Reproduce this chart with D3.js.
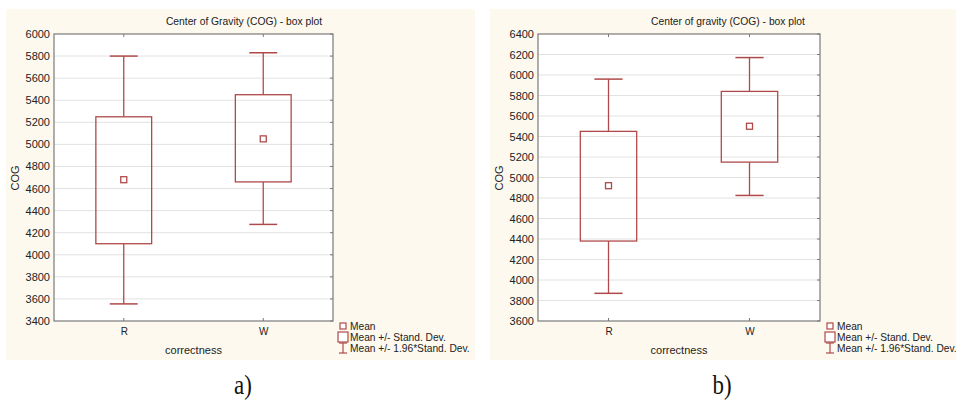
<!DOCTYPE html>
<html>
<head>
<meta charset="utf-8">
<script src="https://cdn.jsdelivr.net/npm/d3@7"></script>
<style>
  body { margin: 0; background: #fff; }
  svg { display: block; }
</style>
</head>
<body>
<svg id="chart" width="956" height="405"></svg>
<script>
// categories on the x axis
var categories = ["R", "W"];

// panel a)
var meanA = [4680, 5050];
var sdLowA = [4100, 4660];
var sdHighA = [5250, 5450];
var ciLowA = [3555, 4275];
var ciHighA = [5800, 5830];
var ticksA = [3400, 3600, 3800, 4000, 4200, 4400, 4600, 4800, 5000, 5200, 5400, 5600, 5800, 6000];

// panel b)
var meanB = [4920, 5500];
var sdLowB = [4380, 5150];
var sdHighB = [5450, 5840];
var ciLowB = [3870, 4825];
var ciHighB = [5960, 6170];
var ticksB = [3600, 3800, 4000, 4200, 4400, 4600, 4800, 5000, 5200, 5400, 5600, 5800, 6000, 6200, 6400];

var legendLabels = ["Mean", "Mean +/- Stand. Dev.", "Mean +/- 1.96*Stand. Dev."];

var boxColor = "#b04a4a";
var axisColor = "#7a7a7a";
var font = "'Liberation Sans', Arial, sans-serif";

const svg = d3.select('#chart');

function drawPanel(p) {
    // cream background
    svg.append('rect')
        .attr('x', p.bgX).attr('y', 9)
        .attr('width', p.bgW).attr('height', 351)
        .attr('fill', '#fdf9ef');

    let x = d3.scalePoint().domain(categories).range([p.left, p.right]).padding(0.5);
    let y = d3.scaleLinear().domain([p.ticks[0], p.ticks[p.ticks.length - 1]]).range([321, 34]);
    let boxW = (p.right - p.left) * 0.2;

    const g = svg.append('g');

    g.append('rect')
        .attr('x', p.left).attr('y', 34)
        .attr('width', p.right - p.left).attr('height', 321 - 34)
        .attr('fill', '#fff');

    // grid lines
    g.selectAll('.grid')
        .data(p.ticks.slice(1, -1))
        .enter().append('line')
        .attr('x1', p.left).attr('x2', p.right)
        .attr('y1', d => y(d)).attr('y2', d => y(d))
        .attr('stroke', '#e2e2e2').attr('stroke-width', 1);

    // left axis
    let axisL = d3.axisLeft(y).tickValues(p.ticks).tickFormat(d3.format('d')).tickSize(0).tickPadding(4);
    const gl = g.append('g').attr('transform', 'translate(' + p.left + ',0)').call(axisL);
    gl.select('.domain').remove();
    gl.selectAll('text').attr('font-family', font).attr('font-size', 11).attr('fill', '#222');

    // bottom axis
    let axisB = d3.axisBottom(x).tickSize(0).tickPadding(7);
    const gb = g.append('g').attr('transform', 'translate(0,321)').call(axisB);
    gb.select('.domain').remove();
    gb.selectAll('text').attr('font-family', font).attr('font-size', 10).attr('fill', '#222');

    // small ticks on top and right, and at categories on bottom
    g.selectAll('.rtick').data(p.ticks).enter().append('line')
        .attr('x1', p.right - 3).attr('x2', p.right)
        .attr('y1', d => y(d)).attr('y2', d => y(d))
        .attr('stroke', axisColor);
    g.selectAll('.ttick').data(categories).enter().append('line')
        .attr('x1', d => x(d)).attr('x2', d => x(d))
        .attr('y1', 34).attr('y2', 37)
        .attr('stroke', axisColor);
    g.selectAll('.btick').data(categories).enter().append('line')
        .attr('x1', d => x(d)).attr('x2', d => x(d))
        .attr('y1', 321).attr('y2', 318)
        .attr('stroke', axisColor);

    // frame
    g.append('rect')
        .attr('x', p.left).attr('y', 34)
        .attr('width', p.right - p.left).attr('height', 321 - 34)
        .attr('fill', 'none').attr('stroke', axisColor).attr('stroke-width', 1.2);

    // whiskers, boxes and means
    categories.forEach(function (c, i) {
        let cx = x(c);
        g.append('line')
            .attr('x1', cx).attr('x2', cx)
            .attr('y1', y(p.ciHigh[i])).attr('y2', y(p.sdHigh[i]))
            .attr('stroke', boxColor).attr('stroke-width', 1.3);
        g.append('line')
            .attr('x1', cx).attr('x2', cx)
            .attr('y1', y(p.sdLow[i])).attr('y2', y(p.ciLow[i]))
            .attr('stroke', boxColor).attr('stroke-width', 1.3);
        g.append('line')
            .attr('x1', cx - boxW / 4).attr('x2', cx + boxW / 4)
            .attr('y1', y(p.ciHigh[i])).attr('y2', y(p.ciHigh[i]))
            .attr('stroke', boxColor).attr('stroke-width', 1.5);
        g.append('line')
            .attr('x1', cx - boxW / 4).attr('x2', cx + boxW / 4)
            .attr('y1', y(p.ciLow[i])).attr('y2', y(p.ciLow[i]))
            .attr('stroke', boxColor).attr('stroke-width', 1.5);
        g.append('rect')
            .attr('x', cx - boxW / 2).attr('y', y(p.sdHigh[i]))
            .attr('width', boxW).attr('height', y(p.sdLow[i]) - y(p.sdHigh[i]))
            .attr('fill', 'none').attr('stroke', boxColor).attr('stroke-width', 1.3);
        g.append('rect')
            .attr('x', cx - 3).attr('y', y(p.mean[i]) - 3)
            .attr('width', 6).attr('height', 6)
            .attr('fill', '#fff').attr('stroke', boxColor).attr('stroke-width', 1.3);
    });

    // titles
    g.append('text')
        .attr('x', p.titleX).attr('y', 25)
        .attr('text-anchor', 'middle')
        .attr('font-family', font).attr('font-size', 10.3).attr('fill', '#222')
        .text(p.title);
    g.append('text')
        .attr('x', (p.left + p.right) / 2).attr('y', 354)
        .attr('text-anchor', 'middle')
        .attr('font-family', font).attr('font-size', 11).attr('fill', '#222')
        .text('correctness');
    g.append('text')
        .attr('transform', 'translate(' + (p.left - 35) + ',178) rotate(-90)')
        .attr('text-anchor', 'middle')
        .attr('font-family', font).attr('font-size', 11).attr('fill', '#222')
        .text('COG');

    // legend
    let lx = p.right + 6;
    let ly = [326, 337, 348];
    g.append('rect').attr('x', lx + 1).attr('y', ly[0] - 3).attr('width', 6).attr('height', 6)
        .attr('fill', '#fff').attr('stroke', boxColor).attr('stroke-width', 1.2);
    g.append('rect').attr('x', lx - 1).attr('y', ly[1] - 5).attr('width', 10).attr('height', 10)
        .attr('fill', '#fff').attr('stroke', boxColor).attr('stroke-width', 1.2);
    g.append('line').attr('x1', lx + 4).attr('x2', lx + 4).attr('y1', ly[2] - 5).attr('y2', ly[2] + 5)
        .attr('stroke', boxColor).attr('stroke-width', 1.2);
    g.append('line').attr('x1', lx).attr('x2', lx + 8).attr('y1', ly[2] - 5).attr('y2', ly[2] - 5)
        .attr('stroke', boxColor).attr('stroke-width', 1.2);
    g.append('line').attr('x1', lx).attr('x2', lx + 8).attr('y1', ly[2] + 5).attr('y2', ly[2] + 5)
        .attr('stroke', boxColor).attr('stroke-width', 1.2);
    g.selectAll('.leg').data(legendLabels).enter().append('text')
        .attr('x', lx + 11).attr('y', (d, i) => ly[i] + 4)
        .attr('font-family', font).attr('font-size', 10.2).attr('fill', '#222')
        .text(d => d);

    // panel letter
    svg.append('text')
        .attr('x', p.letterX).attr('y', 394)
        .attr('text-anchor', 'middle')
        .attr('transform', 'translate(' + p.letterX + ',0) scale(0.85,1) translate(' + (-p.letterX) + ',0)')
        .attr('font-family', "'Liberation Serif', 'Times New Roman', serif")
        .attr('font-size', 27).attr('fill', '#111')
        .text(p.letter);
}

drawPanel({
    bgX: 6, bgW: 469, left: 54, right: 333, titleX: 244,
    ticks: ticksA, mean: meanA, sdLow: sdLowA, sdHigh: sdHighA, ciLow: ciLowA, ciHigh: ciHighA,
    title: 'Center of Gravity (COG) - box plot', letter: 'a)', letterX: 243
});
drawPanel({
    bgX: 490, bgW: 466, left: 538, right: 820, titleX: 728,
    ticks: ticksB, mean: meanB, sdLow: sdLowB, sdHigh: sdHighB, ciLow: ciLowB, ciHigh: ciHighB,
    title: 'Center of gravity (COG) - box plot', letter: 'b)', letterX: 722
});
</script>
</body>
</html>
